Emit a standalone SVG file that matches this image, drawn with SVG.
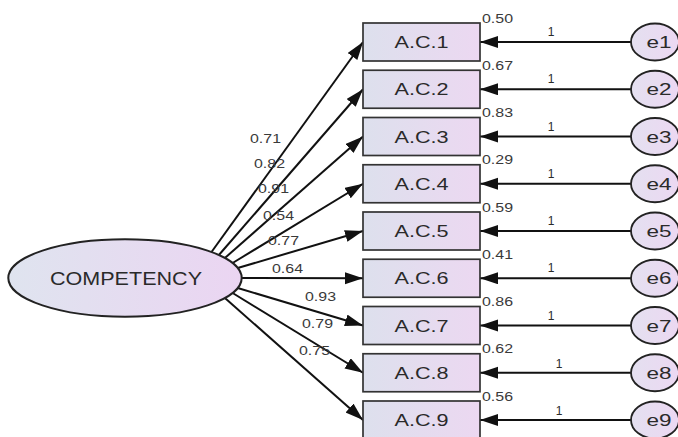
<svg xmlns="http://www.w3.org/2000/svg" width="678" height="437" viewBox="0 0 678 437">
<style>
.box{fill:url(#gBox);stroke:#333;stroke-width:1.7}
.lat{fill:url(#gLat);stroke:#222;stroke-width:2}
.err{fill:url(#gErr);stroke:#222;stroke-width:1.8}
.edge{stroke:#111;stroke-width:2;fill:none;marker-end:url(#arr)}
.t{font-family:"Liberation Sans",Arial,sans-serif;fill:#2a2a2a}
.bl{font-size:16px;text-anchor:middle}
.el{font-size:17px;text-anchor:middle}
.ld{font-size:13px;fill:#3a3a3a}
.vr{font-size:12px;fill:#3a3a3a}
.one{font-size:12px;text-anchor:middle}
</style>
<defs>
<linearGradient id="gBox" x1="0" y1="0" x2="1" y2="0"><stop offset="0" stop-color="#dde0ed"/><stop offset="1" stop-color="#ecd8f1"/></linearGradient>
<linearGradient id="gLat" x1="0" y1="0" x2="1" y2="0"><stop offset="0" stop-color="#dfe4ef"/><stop offset="1" stop-color="#ebd5f2"/></linearGradient>
<linearGradient id="gErr" x1="0" y1="0" x2="1" y2="0"><stop offset="0" stop-color="#e4e0f0"/><stop offset="1" stop-color="#ecd8f2"/></linearGradient>
<marker id="arr" markerUnits="userSpaceOnUse" markerWidth="20" markerHeight="14" refX="18" refY="6" orient="auto"><path d="M0,0 L18,6 L0,12 z" fill="#111"/></marker>
</defs>
<g id="connectors">
<line class="edge" x1="211.5" y1="252" x2="363" y2="42"/>
<line class="edge" x1="218.9" y1="255" x2="363" y2="89.25"/>
<line class="edge" x1="224.9" y1="258" x2="363" y2="136.5"/>
<line class="edge" x1="232.6" y1="263" x2="363" y2="183.75"/>
<line class="edge" x1="237.7" y1="268" x2="363" y2="231"/>
<line class="edge" x1="241.7" y1="278" x2="363" y2="278.25"/>
<line class="edge" x1="237.7" y1="288" x2="363" y2="325.5"/>
<line class="edge" x1="232.6" y1="293" x2="363" y2="372.75"/>
<line class="edge" x1="224.9" y1="298" x2="363" y2="420"/>
<line class="edge" x1="631" y1="42" x2="480" y2="42"/>
<line class="edge" x1="631" y1="89.25" x2="480" y2="89.25"/>
<line class="edge" x1="631" y1="136.5" x2="480" y2="136.5"/>
<line class="edge" x1="631" y1="183.75" x2="480" y2="183.75"/>
<line class="edge" x1="631" y1="231" x2="480" y2="231"/>
<line class="edge" x1="631" y1="278.25" x2="480" y2="278.25"/>
<line class="edge" x1="631" y1="325.5" x2="480" y2="325.5"/>
<line class="edge" x1="631" y1="372.75" x2="480" y2="372.75"/>
<line class="edge" x1="631" y1="420" x2="480" y2="420"/>
<g class="t ld">
<text x="250" y="143" textLength="31" lengthAdjust="spacingAndGlyphs">0.71</text>
<text x="254" y="168" textLength="31" lengthAdjust="spacingAndGlyphs">0.82</text>
<text x="258" y="193" textLength="31" lengthAdjust="spacingAndGlyphs">0.91</text>
<text x="263" y="220" textLength="31" lengthAdjust="spacingAndGlyphs">0.54</text>
<text x="268" y="245" textLength="31" lengthAdjust="spacingAndGlyphs">0.77</text>
<text x="272" y="273" textLength="31" lengthAdjust="spacingAndGlyphs">0.64</text>
<text x="305" y="301" textLength="31" lengthAdjust="spacingAndGlyphs">0.93</text>
<text x="302" y="328" textLength="31" lengthAdjust="spacingAndGlyphs">0.79</text>
<text x="299" y="355" textLength="31" lengthAdjust="spacingAndGlyphs">0.75</text>
</g>
<g class="t one">
<text x="551" y="36">1</text>
<text x="551" y="83.25">1</text>
<text x="551" y="130.5">1</text>
<text x="551" y="177.75">1</text>
<text x="551" y="225">1</text>
<text x="551" y="272.25">1</text>
<text x="551" y="320">1</text>
<text x="559" y="367.75">1</text>
<text x="559" y="415">1</text>
</g>
</g>
<g id="competency">
<ellipse class="lat" cx="125" cy="278" rx="116.7" ry="38.7"/>
<text class="t" x="50" y="285" font-size="18" textLength="152" lengthAdjust="spacingAndGlyphs">COMPETENCY</text>
</g>
<g id="ac1"><rect class="box" x="363" y="23" width="117" height="38"/><text class="t bl" x="421.5" y="48" textLength="54" lengthAdjust="spacingAndGlyphs">A.C.1</text><text class="t vr" x="482" y="22.5" textLength="31" lengthAdjust="spacingAndGlyphs">0.50</text></g>
<g id="ac2"><rect class="box" x="363" y="70.25" width="117" height="38"/><text class="t bl" x="421.5" y="95.25" textLength="54" lengthAdjust="spacingAndGlyphs">A.C.2</text><text class="t vr" x="482" y="69.75" textLength="31" lengthAdjust="spacingAndGlyphs">0.67</text></g>
<g id="ac3"><rect class="box" x="363" y="117.5" width="117" height="38"/><text class="t bl" x="421.5" y="142.5" textLength="54" lengthAdjust="spacingAndGlyphs">A.C.3</text><text class="t vr" x="482" y="117" textLength="31" lengthAdjust="spacingAndGlyphs">0.83</text></g>
<g id="ac4"><rect class="box" x="363" y="164.75" width="117" height="38"/><text class="t bl" x="421.5" y="189.75" textLength="54" lengthAdjust="spacingAndGlyphs">A.C.4</text><text class="t vr" x="482" y="164.25" textLength="31" lengthAdjust="spacingAndGlyphs">0.29</text></g>
<g id="ac5"><rect class="box" x="363" y="212" width="117" height="38"/><text class="t bl" x="421.5" y="237" textLength="54" lengthAdjust="spacingAndGlyphs">A.C.5</text><text class="t vr" x="482" y="211.5" textLength="31" lengthAdjust="spacingAndGlyphs">0.59</text></g>
<g id="ac6"><rect class="box" x="363" y="259.25" width="117" height="38"/><text class="t bl" x="421.5" y="284.25" textLength="54" lengthAdjust="spacingAndGlyphs">A.C.6</text><text class="t vr" x="482" y="258.75" textLength="31" lengthAdjust="spacingAndGlyphs">0.41</text></g>
<g id="ac7"><rect class="box" x="363" y="306.5" width="117" height="38"/><text class="t bl" x="421.5" y="331.5" textLength="54" lengthAdjust="spacingAndGlyphs">A.C.7</text><text class="t vr" x="482" y="306" textLength="31" lengthAdjust="spacingAndGlyphs">0.86</text></g>
<g id="ac8"><rect class="box" x="363" y="353.75" width="117" height="38"/><text class="t bl" x="421.5" y="378.75" textLength="54" lengthAdjust="spacingAndGlyphs">A.C.8</text><text class="t vr" x="482" y="353.25" textLength="31" lengthAdjust="spacingAndGlyphs">0.62</text></g>
<g id="ac9"><rect class="box" x="363" y="401" width="117" height="38"/><text class="t bl" x="421.5" y="426" textLength="54" lengthAdjust="spacingAndGlyphs">A.C.9</text><text class="t vr" x="482" y="400.5" textLength="31" lengthAdjust="spacingAndGlyphs">0.56</text></g>
<g id="e1"><ellipse class="err" cx="655" cy="42" rx="24" ry="18.5"/><text class="t el" x="659" y="48" textLength="25" lengthAdjust="spacingAndGlyphs">e1</text></g>
<g id="e2"><ellipse class="err" cx="655" cy="89.25" rx="24" ry="18.5"/><text class="t el" x="659" y="95.25" textLength="25" lengthAdjust="spacingAndGlyphs">e2</text></g>
<g id="e3"><ellipse class="err" cx="655" cy="136.5" rx="24" ry="18.5"/><text class="t el" x="659" y="142.5" textLength="25" lengthAdjust="spacingAndGlyphs">e3</text></g>
<g id="e4"><ellipse class="err" cx="655" cy="183.75" rx="24" ry="18.5"/><text class="t el" x="659" y="189.75" textLength="25" lengthAdjust="spacingAndGlyphs">e4</text></g>
<g id="e5"><ellipse class="err" cx="655" cy="231" rx="24" ry="18.5"/><text class="t el" x="659" y="237" textLength="25" lengthAdjust="spacingAndGlyphs">e5</text></g>
<g id="e6"><ellipse class="err" cx="655" cy="278.25" rx="24" ry="18.5"/><text class="t el" x="659" y="284.25" textLength="25" lengthAdjust="spacingAndGlyphs">e6</text></g>
<g id="e7"><ellipse class="err" cx="655" cy="325.5" rx="24" ry="18.5"/><text class="t el" x="659" y="331.5" textLength="25" lengthAdjust="spacingAndGlyphs">e7</text></g>
<g id="e8"><ellipse class="err" cx="655" cy="372.75" rx="24" ry="18.5"/><text class="t el" x="659" y="378.75" textLength="25" lengthAdjust="spacingAndGlyphs">e8</text></g>
<g id="e9"><ellipse class="err" cx="655" cy="420" rx="24" ry="18.5"/><text class="t el" x="659" y="426" textLength="25" lengthAdjust="spacingAndGlyphs">e9</text></g>
</svg>
